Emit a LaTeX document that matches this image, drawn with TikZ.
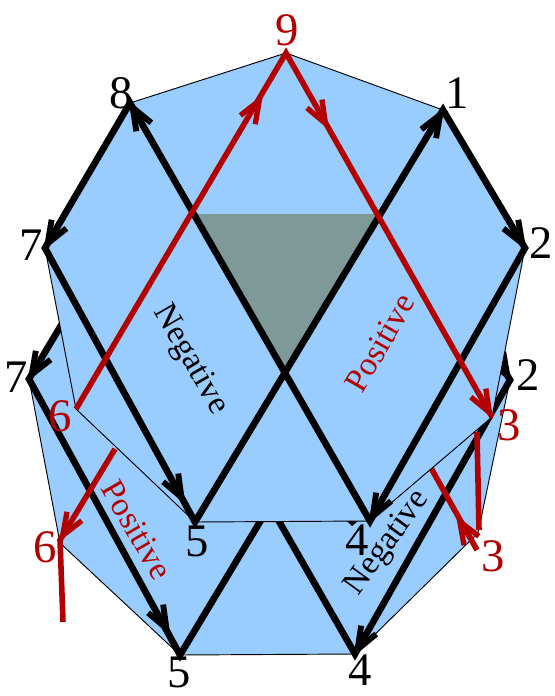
\documentclass[tikz,border=0pt]{standalone}
\usepackage{xcolor}
\usepackage{fontspec}
\setmainfont{Liberation Serif}
\usetikzlibrary{calc}
\definecolor{faceblue}{HTML}{99CCFF}
\definecolor{facegray}{HTML}{7F9999}
\definecolor{edgered}{HTML}{B20000}
\tikzset{
    face/.style={fill=faceblue, draw=black, line width=0.7pt, line join=miter},
    blackedge/.style={draw=black, line width=5pt, line join=miter, miter limit=10},
    rededge/.style={draw=edgered, line width=4.2pt, line join=miter, miter limit=10},
    blackbarb/.style={draw=black, line width=4.4pt, line join=miter, miter limit=10},
    redbarb/.style={draw=edgered, line width=4pt, line join=miter, miter limit=10},
    num/.style={font=\fontsize{35}{35}\selectfont, inner sep=0pt},
    word/.style={font=\fontsize{25}{25}\selectfont, inner sep=0pt},
}
\newcommand{\vhead}[3]{%
    \coordinate (apex) at ($(#3)!4pt!(#2)$);
    \draw[#1] ($(apex)!18pt!21:(#2)$) -- (apex) -- ($(apex)!18pt!-21:(#2)$);
}
\begin{document}
\begin{tikzpicture}[x=0.75pt, y=-0.75pt]
    \useasboundingbox (0,0) rectangle (555,696);

    % upper ring
    \coordinate (u9) at (286,53);
    \coordinate (u1) at (443,110);
    \coordinate (u2) at (525,248);
    \coordinate (u3) at (492,417);
    \coordinate (u4) at (370,521);
    \coordinate (u5) at (195,522);
    \coordinate (u6) at (76,409);
    \coordinate (u7) at (45,248);
    \coordinate (u8) at (130,103);

    % lower ring
    \coordinate (l9) at (271,185);
    \coordinate (l1) at (428,242);
    \coordinate (l2) at (510,380);
    \coordinate (l3) at (478,533);
    \coordinate (l4) at (355,654);
    \coordinate (l5) at (180,655);
    \coordinate (l6) at (60,543);
    \coordinate (l7) at (29,379);
    \coordinate (l8) at (115,235);

    % red pieces
    \coordinate (r6) at (115,449);
    \coordinate (r3) at (431,468);
    \coordinate (s6) at (63,622);
    \coordinate (s3) at (477,432);
    \coordinate (e6) at (60,540);
    \coordinate (e3) at (477,550);
    \coordinate (f3) at (479,530);
    \coordinate (g3) at (457,517);
    \coordinate (h9) at (262,96);
    \coordinate (h3) at (328,128);
    \coordinate (h5) at (184,502);
    \coordinate (k5) at (169,633);
    \coordinate (t1) at (195,214);
    \coordinate (t2) at (377,214);
    \coordinate (t3) at (286,372);

    \draw[face] (l9) -- (l1) -- (l2) -- (l3) -- (l4) -- (l5) -- (l6) -- (l7) -- (l8) -- cycle;
    \draw[blackedge] (l8) -- (l7) -- (l5) -- (l1) -- (l2) -- (l4) -- cycle;
    \vhead{blackbarb}{l8}{l7}
    \vhead{blackbarb}{l7}{k5}
    \vhead{blackbarb}{l1}{l2}
    \vhead{blackbarb}{l2}{l4}
    \fill (347,521) -- (358,521) -- (352,526) -- cycle;
    \draw[rededge] (r6) -- (e6) -- (s6);
    \vhead{redbarb}{r6}{e6}
    \draw[rededge] (r3) -- (e3);
    \vhead{redbarb}{e3}{g3}
    \draw[rededge] (f3) -- (s3);

    \draw[face] (u9) -- (u1) -- (u2) -- (u3) -- (u4) -- (u5) -- (u6) -- (u7) -- (u8) -- cycle;
    \fill[facegray] (t1) -- (t2) -- (t3) -- cycle;
    \draw[blackedge] (u8) -- (u7) -- (u5) -- (u1) -- (u2) -- (u4) -- cycle;
    \vhead{blackbarb}{u8}{u7}
    \vhead{blackbarb}{u7}{h5}
    \vhead{blackbarb}{u5}{u1}
    \vhead{blackbarb}{u1}{u2}
    \vhead{blackbarb}{u2}{u4}
    \vhead{blackbarb}{u4}{u8}
    \draw[rededge] (u6) -- (u9) -- (u3);
    \vhead{redbarb}{u6}{h9}
    \vhead{redbarb}{u9}{h3}
    \vhead{redbarb}{u9}{u3}

    \node[num, text=edgered] (n9) at (287,30) {9};
    \node[num] (n8) at (121,93) {8};
    \node[num] (n1) at (457,93) {1};
    \node[num] (n7) at (31,245) {7};
    \node[num] (n2) at (541,243) {2};
    \node[num, text=edgered] (n6) at (60,416) {6};
    \node[num, text=edgered] (n3) at (509,425) {3};
    \node[num] (n5) at (197,541) {5};
    \node[num] (n4) at (357,540) {4};
    \node[num] (m7) at (16,377) {7};
    \node[num] (m2) at (528,375) {2};
    \node[num, text=edgered] (m6) at (45,547) {6};
    \node[num, text=edgered] (m3) at (493,556) {3};
    \node[num] (m5) at (179,672) {5};
    \node[num] (m4) at (360,670) {4};

    \node[word, rotate=-60] (neg1) at (190,360) {Negative};
    \node[word, rotate=60, text=edgered] (pos1) at (380,343) {Positive};
    \node[word, rotate=-60, text=edgered] (pos2) at (137,530) {Positive};
    \node[word, rotate=54] (neg2) at (388,543) {Negative};
\end{tikzpicture}
\end{document}
